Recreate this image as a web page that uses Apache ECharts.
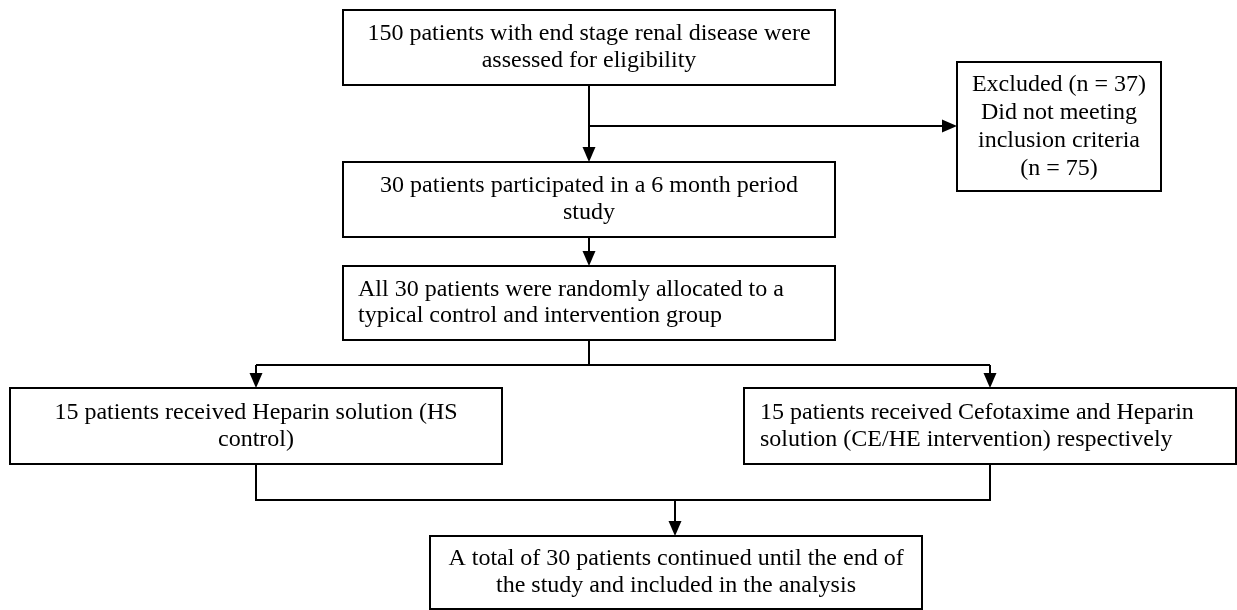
<!DOCTYPE html>
<html>
<head>
<meta charset="utf-8">
<script src="https://cdn.jsdelivr.net/npm/echarts@6/dist/echarts.min.js"></script>
<style>
html,body{margin:0;padding:0;background:#fff;}
#chart{width:1237px;height:610px;}
</style>
</head>
<body>
<div id="chart"></div>
<script>
// ---- content (box texts) ----
const box1Lines = ["150 patients with end stage renal disease were", "assessed for eligibility"];
const excludedLines = ["Excluded (n = 37)", "Did not meeting", "inclusion criteria", "(n = 75)"];
const box2Lines = ["30 patients participated in a 6 month period", "study"];
const box3Lines = ["All 30 patients were randomly allocated to a", "typical control and intervention group"];
const box4Lines = ["15 patients received Heparin solution (HS", "control)"];
const box5Lines = ["15 patients received Cefotaxime and Heparin", "solution (CE/HE intervention) respectively"];
const box6Lines = ["A total of 30 patients continued until the end of", "the study and included in the analysis"];

// ---- layout (diagram coordinates, mapped through hidden axes) ----
const boxLayout = [
  {lines: box1Lines,     x0: 343, y0: 10,  x1: 835,  y1: 85,  align: 'center', lh: 27},
  {lines: excludedLines, x0: 957, y0: 62,  x1: 1161, y1: 191, align: 'center', lh: 28},
  {lines: box2Lines,     x0: 343, y0: 162, x1: 835,  y1: 237, align: 'center', lh: 27},
  {lines: box3Lines,     x0: 343, y0: 266, x1: 835,  y1: 340, align: 'left', pad: 15, lh: 26},
  {lines: box4Lines,     x0: 10,  y0: 388, x1: 502,  y1: 464, align: 'center', lh: 27},
  {lines: box5Lines,     x0: 744, y0: 388, x1: 1236, y1: 464, align: 'left', pad: 16, lh: 27},
  {lines: box6Lines,     x0: 430, y0: 536, x1: 922,  y1: 609, align: 'center', lh: 27}
];

const connectorLayout = [
  {pts: [[589, 85], [589, 162]], arrow: true},
  {pts: [[589, 126], [957, 126]], arrow: true},
  {pts: [[589, 237], [589, 266]], arrow: true},
  {pts: [[589, 340], [589, 365]], arrow: false},
  {pts: [[256, 365], [990, 365]], arrow: false},
  {pts: [[256, 365], [256, 388]], arrow: true},
  {pts: [[990, 365], [990, 388]], arrow: true},
  {pts: [[256, 464], [256, 500], [990, 500], [990, 464]], arrow: false},
  {pts: [[675, 500], [675, 536]], arrow: true}
];

const FONT = '24px "Liberation Serif", "Times New Roman", serif';
const ARROW_LEN = 15, ARROW_HALF = 6.5;

const chart = echarts.init(document.getElementById('chart'), null, {renderer: 'canvas'});

function renderBox(params, api) {
  const b = boxLayout[params.dataIndex];
  const p0 = api.coord([b.x0, b.y0]);
  const p1 = api.coord([b.x1, b.y1]);
  const children = [{
    type: 'rect',
    shape: {x: p0[0], y: p0[1], width: p1[0] - p0[0], height: p1[1] - p0[1]},
    style: {fill: '#fff', stroke: '#000', lineWidth: 2}
  }];
  const cy = (p0[1] + p1[1]) / 2;
  const n = b.lines.length;
  b.lines.forEach(function (t, i) {
    const y = cy + (i - (n - 1) / 2) * b.lh;
    const x = b.align === 'left' ? p0[0] + b.pad : (p0[0] + p1[0]) / 2;
    children.push({
      type: 'text',
      style: {text: t, x: x, y: y, fill: '#000', font: FONT,
              align: b.align, verticalAlign: 'middle'}
    });
  });
  return {type: 'group', children: children};
}

function renderConnector(params, api) {
  const c = connectorLayout[params.dataIndex];
  const pts = c.pts.map(function (p) { return api.coord(p); });
  const children = [];
  const linePts = pts.slice();
  let tip, dir;
  if (c.arrow) {
    const a = pts[pts.length - 2], b = pts[pts.length - 1];
    const dx = b[0] - a[0], dy = b[1] - a[1];
    const len = Math.sqrt(dx * dx + dy * dy);
    dir = [dx / len, dy / len];
    tip = b;
    linePts[linePts.length - 1] = [b[0] - dir[0] * (ARROW_LEN - 2), b[1] - dir[1] * (ARROW_LEN - 2)];
  }
  children.push({
    type: 'polyline',
    shape: {points: linePts},
    style: {stroke: '#000', lineWidth: 2, fill: null}
  });
  if (c.arrow) {
    const bx = tip[0] - dir[0] * ARROW_LEN, by = tip[1] - dir[1] * ARROW_LEN;
    const nx = -dir[1], ny = dir[0];
    children.push({
      type: 'polygon',
      shape: {points: [tip, [bx + nx * ARROW_HALF, by + ny * ARROW_HALF], [bx - nx * ARROW_HALF, by - ny * ARROW_HALF]]},
      style: {fill: '#000', stroke: null}
    });
  }
  return {type: 'group', children: children};
}

chart.setOption({
  backgroundColor: '#fff',
  animation: false,
  grid: {left: 0, right: 0, top: 0, bottom: 0},
  xAxis: {type: 'value', min: 0, max: 1237, show: false},
  yAxis: {type: 'value', min: 0, max: 610, inverse: true, show: false},
  series: [
    {
      type: 'custom',
      name: 'connectors',
      renderItem: renderConnector,
      data: connectorLayout.map(function (c, i) { return [i]; }),
      silent: true,
      z: 1
    },
    {
      type: 'custom',
      name: 'boxes',
      renderItem: renderBox,
      data: boxLayout.map(function (b, i) { return [i]; }),
      silent: true,
      z: 2
    }
  ]
});
</script>
</body>
</html>
